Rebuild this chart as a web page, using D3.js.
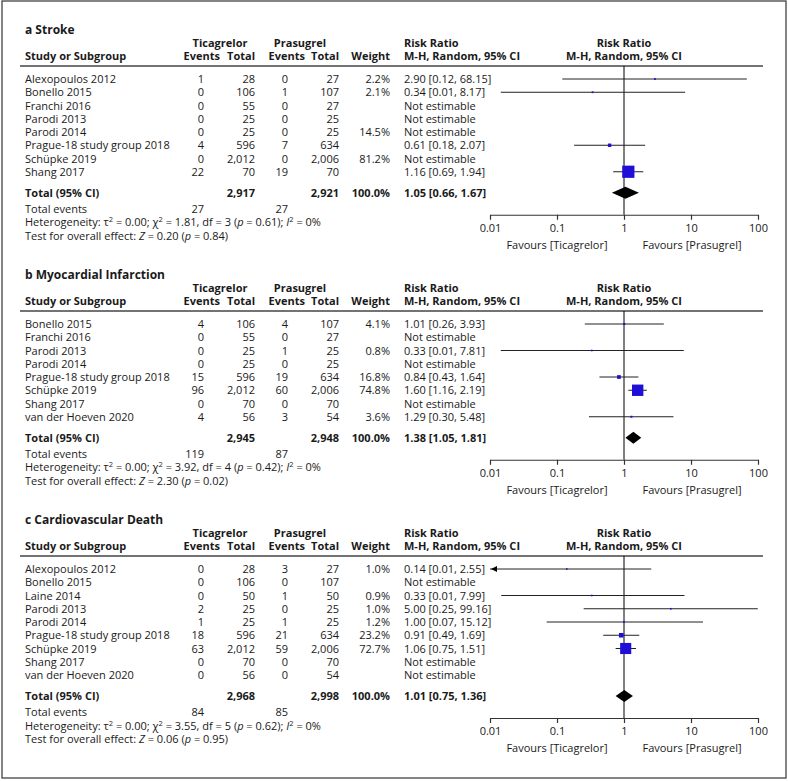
<!DOCTYPE html>
<html><head><meta charset="utf-8">
<script src="https://cdn.jsdelivr.net/npm/d3@7"></script>
<style>
body{margin:0;background:#fff;}
svg text{font-family:"Open Sans","Noto Sans",sans-serif;fill:#1a1a1a;}
</style></head>
<body><svg id="chart" width="788" height="781"></svg>
<script>
// ---------- data ----------
const axisTicks = [0.01, 0.1, 1, 10, 100];
const favourLabels = ["Favours [Ticagrelor]", "Favours [Prasugrel]"];

// a Stroke
const strokeStudies = ["Alexopoulos 2012","Bonello 2015","Franchi 2016","Parodi 2013","Parodi 2014","Prague-18 study group 2018","Schüpke 2019","Shang 2017"];
const strokeTicEvents = [1,0,0,0,0,4,0,22];
const strokeTicTotal = [28,106,55,25,25,596,2012,70];
const strokePraEvents = [0,1,0,0,0,7,0,19];
const strokePraTotal = [27,107,27,25,25,634,2006,70];
const strokeWeightLabels = ["2.2%","2.1%","","","14.5%","","81.2%",""];
const strokeMarkWeights = [2.2,2.1,null,null,null,14.5,null,81.2];
const strokeRR = [2.90,0.34,null,null,null,0.61,null,1.16];
const strokeLo = [0.12,0.0145,null,null,null,0.18,null,0.69];
const strokeHi = [68.15,8.17,null,null,null,2.07,null,1.94];
const strokeTotals = [2917,2921];
const strokeTotalRR = [1.05,0.66,1.67];
const strokeTotalEvents = [27,27];
const strokeHet = ["0.00","1.81","3","0.61","0%"];
const strokeTest = ["0.20","0.84"];

// b Myocardial Infarction
const miStudies = ["Bonello 2015","Franchi 2016","Parodi 2013","Parodi 2014","Prague-18 study group 2018","Schüpke 2019","Shang 2017","van der Hoeven 2020"];
const miTicEvents = [4,0,0,0,15,96,0,4];
const miTicTotal = [106,55,25,25,596,2012,70,56];
const miPraEvents = [4,0,1,0,19,60,0,3];
const miPraTotal = [107,27,25,25,634,2006,70,54];
const miWeightLabels = ["4.1%","","0.8%","","16.8%","74.8%","","3.6%"];
const miMarkWeights = [4.1,null,0.8,null,16.8,74.8,null,3.6];
const miRR = [1.01,null,0.33,null,0.84,1.60,null,1.29];
const miLo = [0.26,null,0.0145,null,0.43,1.16,null,0.30];
const miHi = [3.93,null,7.81,null,1.64,2.19,null,5.48];
const miTotals = [2945,2948];
const miTotalRR = [1.38,1.05,1.81];
const miTotalEvents = [119,87];
const miHet = ["0.00","3.92","4","0.42","0%"];
const miTest = ["2.30","0.02"];

// c Cardiovascular Death
const cvStudies = ["Alexopoulos 2012","Bonello 2015","Laine 2014","Parodi 2013","Parodi 2014","Prague-18 study group 2018","Schüpke 2019","Shang 2017","van der Hoeven 2020"];
const cvTicEvents = [0,0,0,2,1,18,63,0,0];
const cvTicTotal = [28,106,50,25,25,596,2012,70,56];
const cvPraEvents = [3,0,1,0,1,21,59,0,0];
const cvPraTotal = [27,107,50,25,25,634,2006,70,54];
const cvWeightLabels = ["1.0%","","0.9%","1.0%","1.2%","23.2%","72.7%","",""];
const cvMarkWeights = [1.0,null,0.9,1.0,1.2,23.2,72.7,null,null];
const cvRR = [0.14,null,0.33,5.00,1.00,0.91,1.06,null,null];
const cvLo = [0.0075,null,0.0147,0.25,0.07,0.49,0.75,null,null];
const cvHi = [2.55,null,7.99,99.16,15.12,1.69,1.51,null,null];
const cvTotals = [2968,2998];
const cvTotalRR = [1.01,0.75,1.36];
const cvTotalEvents = [84,85];
const cvHet = ["0.00","3.55","5","0.62","0%"];
const cvTest = ["0.06","0.95"];

const panels = [
  {title:"a Stroke", studies:strokeStudies, te:strokeTicEvents, tt:strokeTicTotal, pe:strokePraEvents, pt:strokePraTotal, wl:strokeWeightLabels, mw:strokeMarkWeights, rr:strokeRR, lo:strokeLo, hi:strokeHi, totals:strokeTotals, total:strokeTotalRR, events:strokeTotalEvents, het:strokeHet, test:strokeTest},
  {title:"b Myocardial Infarction", studies:miStudies, te:miTicEvents, tt:miTicTotal, pe:miPraEvents, pt:miPraTotal, wl:miWeightLabels, mw:miMarkWeights, rr:miRR, lo:miLo, hi:miHi, totals:miTotals, total:miTotalRR, events:miTotalEvents, het:miHet, test:miTest},
  {title:"c Cardiovascular Death", studies:cvStudies, te:cvTicEvents, tt:cvTicTotal, pe:cvPraEvents, pt:cvPraTotal, wl:cvWeightLabels, mw:cvMarkWeights, rr:cvRR, lo:cvLo, hi:cvHi, totals:cvTotals, total:cvTotalRR, events:cvTotalEvents, het:cvHet, test:cvTest}
];
const panelOffsets = [0, 245, 490];

// ---------- drawing ----------
const svg = d3.select("#chart");
svg.append("rect").attr("x",2).attr("y",1).attr("width",784).attr("height",777)
  .attr("fill","#fff").attr("stroke","#333").attr("stroke-width",1.2);

const x = d3.scaleLog().domain([0.01,100]).range([490,758]);
const side = d3.scaleLinear().domain([0,100]).range([1.5,14.7]);
const f2 = d3.format(".2f");
const fc = d3.format(",");
const BLUE = "#1e0ed6";

function txt(g, xx, yc, s, opt={}) {
  return g.append("text").attr("x",xx).attr("y",yc+4)
    .attr("font-size", opt.size||11)
    .attr("font-weight", opt.bold?"bold":"normal")
    .attr("text-anchor", opt.anchor||"start")
    .text(s);
}
function rich(g, xx, yc, parts) {
  const t = g.append("text").attr("x",xx).attr("y",yc+4).attr("font-size",11);
  let up = false;
  parts.forEach(([s,st]) => {
    const sp = t.append("tspan").text(s);
    if (st === "i") sp.attr("font-style","italic");
    if (st === "sup") { sp.attr("font-size",7.5).attr("dy",-4); up = true; }
    else if (up) { sp.attr("dy",4); up = false; }
  });
}

panels.forEach((P, pi) => {
  const g = svg.append("g").attr("transform",`translate(0,${panelOffsets[pi]})`);
  txt(g,25,30,P.title,{bold:true,size:12});
  txt(g,220,43,"Ticagrelor",{bold:true,anchor:"middle"});
  txt(g,300,43,"Prasugrel",{bold:true,anchor:"middle"});
  txt(g,25,56,"Study or Subgroup",{bold:true});
  txt(g,220,56,"Events",{bold:true,anchor:"end"});
  txt(g,255,56,"Total",{bold:true,anchor:"end"});
  txt(g,305,56,"Events",{bold:true,anchor:"end"});
  txt(g,339,56,"Total",{bold:true,anchor:"end"});
  txt(g,390,56,"Weight",{bold:true,anchor:"end"});
  txt(g,404,43,"Risk Ratio",{bold:true});
  txt(g,404,56,"M-H, Random, 95% CI",{bold:true});
  txt(g,624,43,"Risk Ratio",{bold:true,anchor:"middle"});
  txt(g,624,56,"M-H, Random, 95% CI",{bold:true,anchor:"middle"});
  g.append("line").attr("x1",20).attr("x2",763).attr("y1",66).attr("y2",66)
    .attr("stroke","#444").attr("stroke-width",1.5);

  const rowY = i => 79 + i*13.25;
  const n = P.studies.length;
  const totalY = rowY(n-1) + 21;
  const axisY = totalY + 22;

  // reference line at RR = 1
  g.append("line").attr("x1",x(1)).attr("x2",x(1)).attr("y1",66).attr("y2",axisY)
    .attr("stroke","#000").attr("stroke-width",1);

  P.studies.forEach((s,i) => {
    const y = rowY(i);
    txt(g,25,y,s);
    txt(g,204,y,P.te[i],{anchor:"end"});
    txt(g,255,y,fc(P.tt[i]),{anchor:"end"});
    txt(g,288,y,P.pe[i],{anchor:"end"});
    txt(g,339,y,fc(P.pt[i]),{anchor:"end"});
    txt(g,390,y,P.wl[i],{anchor:"end"});
    if (P.rr[i] == null) { txt(g,404,y,"Not estimable"); return; }
    txt(g,404,y,`${f2(P.rr[i])} [${f2(P.lo[i])}, ${f2(P.hi[i])}]`);
    const lo = Math.max(P.lo[i], 0.01), hi = Math.min(P.hi[i], 100);
    g.append("line").attr("x1",x(lo)).attr("x2",x(hi)).attr("y1",y).attr("y2",y)
      .attr("stroke","#222").attr("stroke-width",1);
    if (P.lo[i] < 0.01) {
      const ax = x(0.01) + 1;
      g.append("path").attr("d",`M${ax},${y} l6,-3 l0,6 z`).attr("fill","#000");
    }
    const w = side(P.mw[i]);
    g.append("rect").attr("x",x(P.rr[i])-w/2).attr("y",y-w/2).attr("width",w).attr("height",w)
      .attr("fill",BLUE);
  });

  // total row
  txt(g,25,totalY,"Total (95% CI)",{bold:true});
  txt(g,255,totalY,fc(P.totals[0]),{bold:true,anchor:"end"});
  txt(g,339,totalY,fc(P.totals[1]),{bold:true,anchor:"end"});
  txt(g,390,totalY,"100.0%",{bold:true,anchor:"end"});
  txt(g,404,totalY,`${f2(P.total[0])} [${f2(P.total[1])}, ${f2(P.total[2])}]`,{bold:true});
  const [e,l,h] = P.total;
  g.append("path").attr("d",`M${x(l)},${totalY} L${x(e)},${totalY-6} L${x(h)},${totalY} L${x(e)},${totalY+6} Z`)
    .attr("fill","#000");

  txt(g,25,totalY+16,"Total events");
  txt(g,204,totalY+16,P.events[0],{anchor:"end"});
  txt(g,288,totalY+16,P.events[1],{anchor:"end"});
  const H = P.het;
  rich(g,25,totalY+29.5,[["Heterogeneity: τ","n"],["2","sup"],[` = ${H[0]}; χ`,"n"],["2","sup"],[` = ${H[1]}, df = ${H[2]} (`,"n"],["p","i"],[` = ${H[3]}); `,"n"],["I","i"],["2","sup"],[` = ${H[4]}`,"n"]]);
  rich(g,25,totalY+43,[["Test for overall effect: ","n"],["Z","i"],[` = ${P.test[0]} (`,"n"],["p","i"],[` = ${P.test[1]})`,"n"]]);

  // axis
  const ax = g.append("g").attr("transform",`translate(0,${axisY})`)
    .call(d3.axisBottom(x).tickValues(axisTicks).tickFormat(d => String(d)).tickSize(5).tickSizeOuter(0).tickPadding(4));
  ax.select(".domain").attr("stroke","#333").attr("stroke-width",1.2);
  ax.selectAll(".tick line").attr("stroke","#333").attr("stroke-width",1.2);
  ax.selectAll(".tick text").attr("font-size",11).attr("font-family","'Open Sans','Noto Sans',sans-serif").attr("fill","#1a1a1a");
  txt(g,557,axisY+30,favourLabels[0],{anchor:"middle"});
  txt(g,692,axisY+30,favourLabels[1],{anchor:"middle"});
});
</script></body></html>
